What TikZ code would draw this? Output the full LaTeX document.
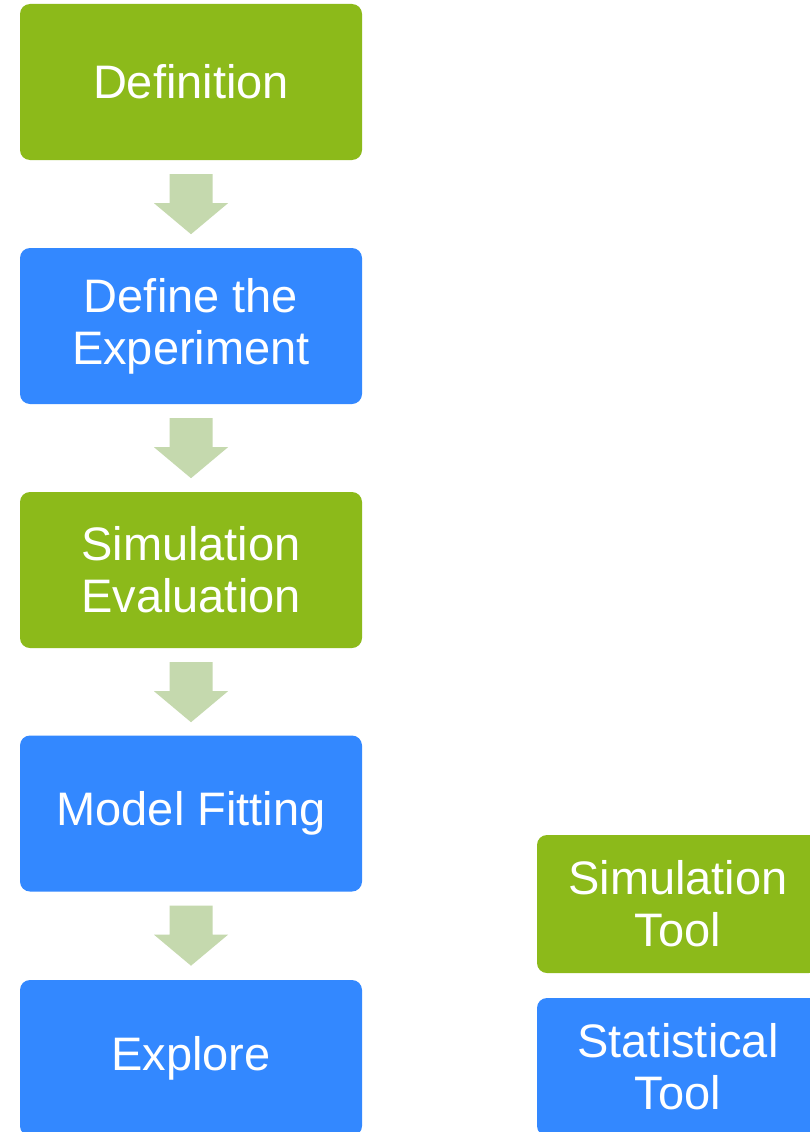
\documentclass[tikz,border=0pt]{standalone}
\usepackage{fontspec}
\setmainfont{Liberation Sans}
\definecolor{grn}{HTML}{8CBA1A}
\definecolor{blu}{HTML}{3388FF}
\definecolor{arr}{HTML}{C5D9AE}
\begin{document}
\begin{tikzpicture}[x=1pt,y=-1pt,
  box/.style={rounded corners=10pt, minimum width=342pt, minimum height=156pt,
    text=white, align=center, inner sep=0pt, font=\fontsize{47}{52}\selectfont},
  toolbox/.style={box, minimum width=282pt, minimum height=138pt},
  arrowfill/.style={fill=arr}]
\fill[white] (0,0) rectangle (810,1132);
\clip (0,0) rectangle (810,1132);
\node[box, fill=grn] (def) at (191,82) {Definition};
\node[box, fill=blu] (exp) at (191,326) {Define the\\Experiment};
\node[box, fill=grn] (sim) at (191,570) {Simulation\\Evaluation};
\node[box, fill=blu] (fit) at (191,813.5) {Model Fitting};
\node[box, fill=blu] (expl) at (191,1058) {Explore};
\node[toolbox, fill=grn] (simtool) at (678,904) {Simulation\\Tool};
\node[toolbox, fill=blu] (stattool) at (678,1067) {Statistical\\Tool};
\foreach \a in {def,exp,sim,fit}{
  \begin{scope}[shift={(\a.south)}]
    \fill[arrowfill] (-21.5,14) -- (21.5,14) -- (21.5,43) -- (37,43) -- (0,74)
      -- (-37,43) -- (-21.5,43) -- cycle;
  \end{scope}
}
\end{tikzpicture}
\end{document}
